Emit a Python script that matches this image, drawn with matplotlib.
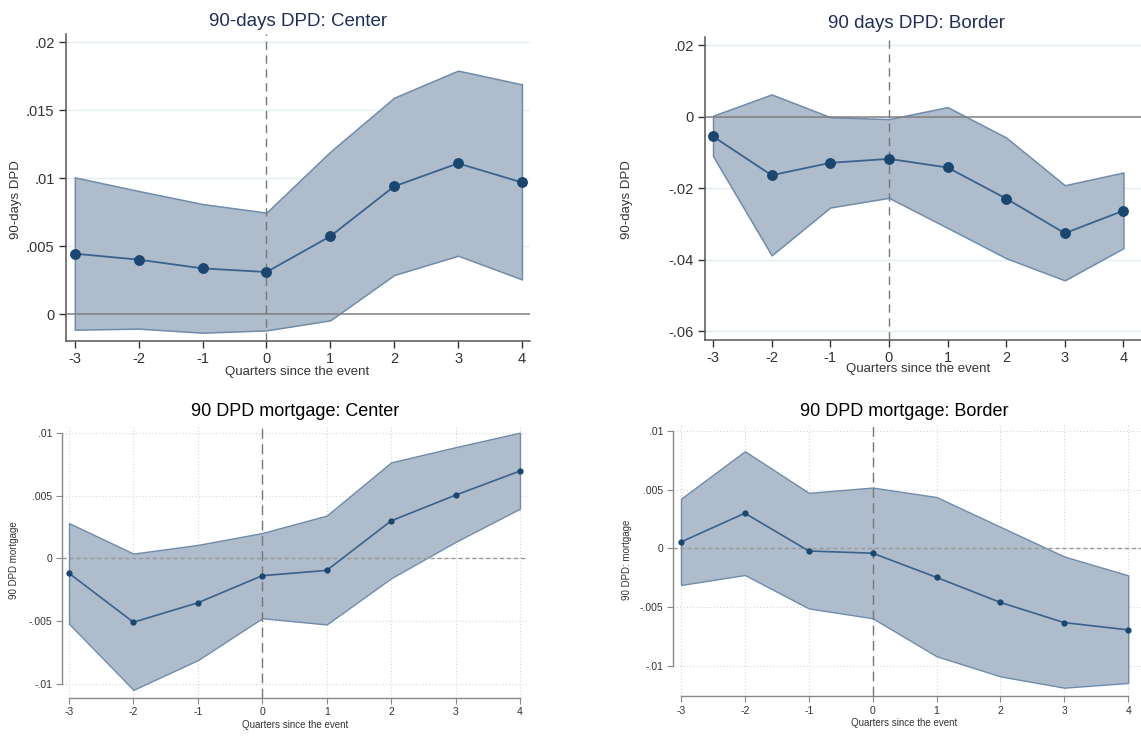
import numpy as np
import matplotlib.pyplot as plt

plt.rcParams['font.family'] = ['Liberation Sans', 'DejaVu Sans']

###### dados ######
quarters = [-3, -2, -1, 0, 1, 2, 3, 4]

# 90-days DPD: Center
c90_coef = [0.00446, 0.00402, 0.00338, 0.00311, 0.00574, 0.00941, 0.0111, 0.0097]
c90_hi = [0.01007, 0.00907, 0.00811, 0.00748, 0.01196, 0.01593, 0.01792, 0.01691]
c90_lo = [-0.00113, -0.00105, -0.00135, -0.00118, -0.00044, 0.00289, 0.00431, 0.00257]

# 90 days DPD: Border
b90_coef = [-0.00551, -0.01636, -0.0129, -0.01178, -0.0142, -0.0229, -0.0326, -0.0263]
b90_hi = [0.0003, 0.00626, -0.0001, -0.00065, 0.00271, -0.0058, -0.01916, -0.0156]
b90_lo = [-0.011, -0.0388, -0.0254, -0.0227, -0.0311, -0.0396, -0.0458, -0.0368]

# 90 DPD mortgage: Center
cm_coef = [-0.00118, -0.00508, -0.00353, -0.00137, -0.00095, 0.0030, 0.00505, 0.00697]
cm_hi = [0.00282, 0.00039, 0.00108, 0.00203, 0.00342, 0.00766, 0.00887, 0.01003]
cm_lo = [-0.00521, -0.01047, -0.0081, -0.00476, -0.00526, -0.00158, 0.00132, 0.00397]

# 90 DPD mortgage: Border
bm_coef = [0.00054, 0.00299, -0.00023, -0.00042, -0.00248, -0.00462, -0.00634, -0.00696]
bm_hi = [0.00423, 0.00828, 0.00473, 0.00518, 0.00437, 0.00183, -0.0007, -0.00231]
bm_lo = [-0.00313, -0.00228, -0.00513, -0.00597, -0.00921, -0.01093, -0.01189, -0.01149]

c90_yticks = [0, 0.005, 0.01, 0.015, 0.02]
c90_ylabels = ['0', '.005', '.01', '.015', '.02']
b90_yticks = [-0.06, -0.04, -0.02, 0, 0.02]
b90_ylabels = ['-.06', '-.04', '-.02', '0', '.02']
m_yticks = [-0.01, -0.005, 0, 0.005, 0.01]
m_ylabels = ['-.01', '-.005', '0', '.005', '.01']

W, H = 1141, 754

def box(l, t, r, b):
    return [l / W, 1 - b / H, (r - l) / W, (b - t) / H]

def pt(x, y):
    return x / W, 1 - y / H

fill_c = '#aebccb'
edge_c = '#6f8cab'
navy = '#1a476f'
line_c = '#3a628c'

###### painel de cima (estilo 1) ######
def painel_top(ax, coef, lo, hi, yticks, ylabels, ylim, xlim):
    ax.fill_between(quarters, lo, hi, facecolor=fill_c, edgecolor=edge_c, linewidth=1.1, zorder=2)
    for y in yticks:
        if y != 0:
            ax.axhline(y, color='#e3eef1', linewidth=1, zorder=1)
    ax.axhline(0, color='#7f7f7f', linewidth=1.1, zorder=3)
    ax.axvline(0, color='#777777', linewidth=1, linestyle=(0, (6, 4)), zorder=3)
    ax.plot(quarters, coef, color=line_c, linewidth=1.3, marker='o', markersize=6.8,
            markerfacecolor=navy, markeredgecolor=navy, zorder=4)
    ax.set_xlim(xlim)
    ax.set_ylim(ylim)
    ax.set_xticks(quarters)
    ax.set_xticklabels([str(q) for q in quarters])
    ax.set_yticks(yticks)
    ax.set_yticklabels(ylabels)
    for s in ['top', 'right']:
        ax.spines[s].set_visible(False)
    for s in ['left', 'bottom']:
        ax.spines[s].set_color('#555555')
        ax.spines[s].set_linewidth(1.1)
    ax.tick_params(labelsize=10.5, colors='#333333', length=5, width=1, pad=3)
    ax.set_facecolor('none')

###### painel de baixo (estilo 2) ######
def painel_bottom(ax, coef, lo, hi, ylim, xlim):
    ax.fill_between(quarters, lo, hi, facecolor=fill_c, edgecolor=edge_c, linewidth=1, zorder=2)
    for y in m_yticks:
        ax.axhline(y, color='#d5d5d5', linewidth=0.8, linestyle=(0, (1, 2)), zorder=1)
    for q in quarters:
        ax.axvline(q, color='#d5d5d5', linewidth=0.8, linestyle=(0, (1, 2)), zorder=1)
    ax.axhline(0, color='#999999', linewidth=1, linestyle=(0, (3, 2)), zorder=3)
    ax.axvline(0, color='#777777', linewidth=1, linestyle=(0, (7, 4)), zorder=3)
    ax.plot(quarters, coef, color=line_c, linewidth=1.2, marker='o', markersize=3.5,
            markerfacecolor=navy, markeredgecolor=navy, zorder=4)
    ax.set_xlim(xlim)
    ax.set_ylim(ylim)
    ax.set_xticks(quarters)
    ax.set_xticklabels([str(q) for q in quarters])
    ax.set_yticks(m_yticks)
    ax.set_yticklabels(m_ylabels)
    for s in ['top', 'right']:
        ax.spines[s].set_visible(False)
    for s in ['left', 'bottom']:
        ax.spines[s].set_color('#888888')
        ax.spines[s].set_linewidth(1)
    ax.spines['left'].set_bounds(-0.01, 0.01)
    ax.spines['bottom'].set_bounds(-3, 4)
    ax.tick_params(labelsize=7.5, colors='#333333', length=4, width=0.8, pad=3)
    ax.tick_params(axis='both', color='#888888')
    ax.set_facecolor('none')


fig = plt.figure(figsize=(W / 100, H / 100), dpi=100)

ax1 = fig.add_axes(box(65.7, 34.3, 530, 341))
painel_top(ax1, c90_coef, c90_lo, c90_hi, c90_yticks, c90_ylabels,
           (-0.00196, 0.02059), (-3.143, 4.126))
ax2 = fig.add_axes(box(705, 37, 1141, 340))
painel_top(ax2, b90_coef, b90_lo, b90_hi, b90_yticks, b90_ylabels,
           (-0.0625, 0.02234), (-3.137, 4.3))
ax3 = fig.add_axes(box(62, 424.6, 527, 697.5))
painel_bottom(ax3, cm_coef, cm_lo, cm_hi, (-0.01108, 0.01067), (-3.109, 4.109))
ax4 = fig.add_axes(box(673, 424.6, 1141, 696))
painel_bottom(ax4, bm_coef, bm_lo, bm_hi, (-0.0126, 0.01055), (-3.125, 4.2))

###### textos ######
title_c = '#1f2f57'
fig.text(*pt(298, 21), '90-days DPD: Center', ha='center', va='center', fontsize=13.5, color=title_c)
fig.text(*pt(917, 24), '90 days DPD: Border', ha='center', va='center', fontsize=13.5, color=title_c)
fig.text(*pt(295, 411), '90 DPD mortgage: Center', ha='center', va='center', fontsize=13, color='black')
fig.text(*pt(904, 411), '90 DPD mortgage: Border', ha='center', va='center', fontsize=13, color='black')

fig.text(*pt(297, 372), 'Quarters since the event', ha='center', va='center', fontsize=9.5, color='#333333')
fig.text(*pt(918, 369), 'Quarters since the event', ha='center', va='center', fontsize=9.5, color='#333333')
fig.text(*pt(295, 725), 'Quarters since the event', ha='center', va='center', fontsize=7, color='#333333')
fig.text(*pt(904, 723), 'Quarters since the event', ha='center', va='center', fontsize=7, color='#333333')

fig.text(*pt(16, 200), '90-days DPD', ha='center', va='center', rotation=90, fontsize=9.5, color='#333333')
fig.text(*pt(627, 200), '90-days DPD', ha='center', va='center', rotation=90, fontsize=9.5, color='#333333')
fig.text(*pt(14, 560), '90 DPD mortgage', ha='center', va='center', rotation=90, fontsize=7, color='#333333')
fig.text(*pt(627, 560), '90 DPD: mortgage', ha='center', va='center', rotation=90, fontsize=7, color='#333333')

fig.savefig('out.png', dpi=100)
